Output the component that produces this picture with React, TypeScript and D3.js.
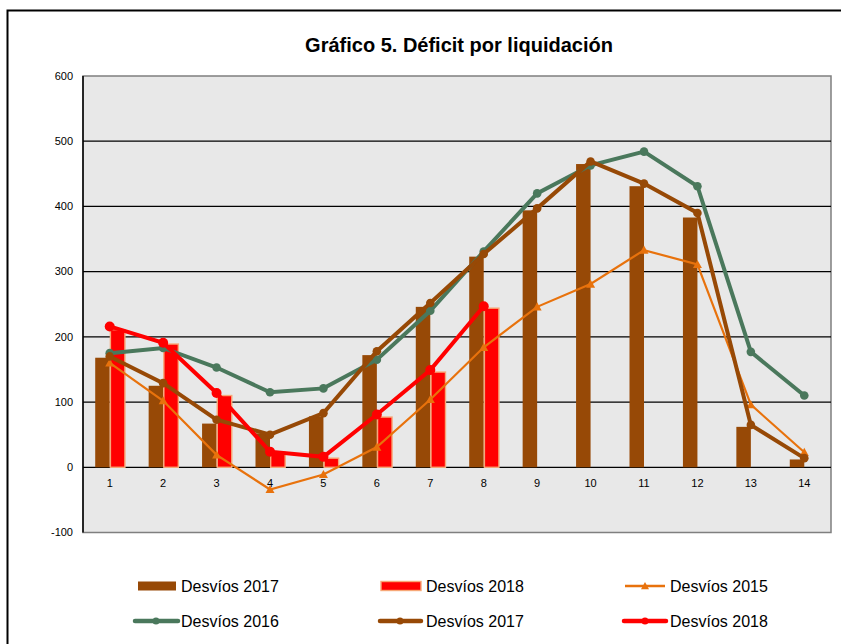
import * as d3 from 'd3';
import React from 'react';

// categories and values
const categories = ['1', '2', '3', '4', '5', '6', '7', '8', '9', '10', '11', '12', '13', '14'];
const bars2017 = [168, 125, 67, 52, 78, 172, 246, 323, 394, 465, 431, 383, 62, 12];
const bars2018 = [211, 189, 110, 23, 14, 77, 146, 244];
const line2015 = [160, 102, 19, -34, -11, 31, 104, 184, 246, 281, 333, 311, 96, 23];
const line2016 = [175, 183, 153, 115, 121, 165, 240, 331, 420, 463, 484, 431, 177, 110];
const line2017 = [170, 129, 73, 50, 83, 178, 252, 327, 397, 469, 435, 390, 65, 14];
const line2018 = [216, 191, 114, 24, 16, 81, 149, 247];
const yTicks = [-100, 0, 100, 200, 300, 400, 500, 600];

const BROWN = '#974906';
const RED = '#ff0000';
const GREEN = '#4a785c';
const ORANGE = '#e8720c';
const FONT = 'Liberation Sans, Arial, sans-serif';

export default function App() {
  const W = 841;
  const H = 644;
  const plot = { left: 83, right: 831, top: 76, bottom: 532.5 };

  const x = d3.scaleBand<string>().domain(categories).range([plot.left, plot.right]);
  const y = d3.scaleLinear().domain([-100, 600]).range([plot.bottom, plot.top]);
  const cx = (i: number) => (x(categories[i]) ?? 0) + x.bandwidth() / 2;

  const line = d3
    .line<number>()
    .x((_, i) => cx(i))
    .y(d => y(d));

  const tri = (px: number, py: number, s: number) =>
    `M${px},${py - s}L${px + s},${py + s * 0.8}L${px - s},${py + s * 0.8}Z`;

  const legendRow1 = 586;
  const legendRow2 = 621;

  return (
    <div style={{ position: 'absolute', left: 0, top: 0 }}>
      <svg width={W} height={H} style={{ display: 'block', background: '#fff' }} fontFamily={FONT}>
        {/* outer frame */}
        <rect x={7.5} y={10.5} width={W + 20} height={H + 20} fill="none" stroke="#000" strokeWidth={2} />

        <text x={459} y={52} textAnchor="middle" fontSize={20} fontWeight="bold" fill="#000">
          Gráfico 5. Déficit por liquidación
        </text>

        {/* plot area */}
        <rect
          x={plot.left}
          y={plot.top}
          width={plot.right - plot.left}
          height={plot.bottom - plot.top}
          fill="#e8e8e8"
          stroke="#7f7f7f"
          strokeWidth={1.5}
        />
        {yTicks
          .filter(t => t > -100 && t < 600)
          .map(t => (
            <line key={t} x1={plot.left} x2={plot.right} y1={y(t)} y2={y(t)} stroke="#000" strokeWidth={1.3} />
          ))}
        <line x1={plot.left} x2={plot.left} y1={plot.top} y2={plot.bottom} stroke="#000" strokeWidth={1.5} />

        {yTicks.map(t => (
          <text key={t} x={73} y={y(t)} dy="0.35em" textAnchor="end" fontSize={11} fill="#000">
            {t}
          </text>
        ))}
        {categories.map((c, i) => (
          <text key={c} x={cx(i)} y={487} textAnchor="middle" fontSize={11} fill="#000">
            {c}
          </text>
        ))}

        {/* bars */}
        {bars2017.map((v, i) => (
          <rect key={'b17' + i} x={cx(i) - 14.5} y={y(v)} width={14.5} height={y(0) - y(v)} fill={BROWN} />
        ))}
        {bars2018.map((v, i) => (
          <rect
            key={'b18' + i}
            x={cx(i) + 0.7}
            y={y(v)}
            width={14.5}
            height={y(0) - y(v)}
            fill={RED}
            stroke="#f7a878"
            strokeWidth={1.4}
          />
        ))}

        {/* lines */}
        <path d={line(line2015) ?? ''} fill="none" stroke={ORANGE} strokeWidth={2.2} />
        {line2015.map((v, i) => (
          <path key={'m15' + i} d={tri(cx(i), y(v), 4.5)} fill={ORANGE} />
        ))}
        <path d={line(line2016) ?? ''} fill="none" stroke={GREEN} strokeWidth={4} />
        {line2016.map((v, i) => (
          <circle key={'m16' + i} cx={cx(i)} cy={y(v)} r={4.3} fill={GREEN} />
        ))}
        <path d={line(line2017) ?? ''} fill="none" stroke={BROWN} strokeWidth={4} />
        {line2017.map((v, i) => (
          <circle key={'m17' + i} cx={cx(i)} cy={y(v)} r={4.3} fill={BROWN} />
        ))}
        <path d={line(line2018) ?? ''} fill="none" stroke={RED} strokeWidth={4} />
        {line2018.map((v, i) => (
          <circle key={'m18' + i} cx={cx(i)} cy={y(v)} r={5} fill={RED} />
        ))}

        {/* legend */}
        <g fontSize={16} fill="#000">
          <rect x={138} y={legendRow1 - 4.5} width={38} height={9} fill={BROWN} />
          <text x={181} y={legendRow1} dy="0.35em">Desvíos 2017</text>

          <rect x={381} y={legendRow1 - 4.5} width={40} height={9} fill={RED} stroke="#f7a878" strokeWidth={1.4} />
          <text x={426} y={legendRow1} dy="0.35em">Desvíos 2018</text>

          <line x1={625} x2={665} y1={legendRow1} y2={legendRow1} stroke={ORANGE} strokeWidth={2.5} />
          <path d={tri(645, legendRow1, 4)} fill={ORANGE} />
          <text x={670} y={legendRow1} dy="0.35em">Desvíos 2015</text>

          <line x1={135} x2={178} y1={legendRow2} y2={legendRow2} stroke={GREEN} strokeWidth={4.5} strokeLinecap="round" />
          <circle cx={156} cy={legendRow2} r={3.5} fill={GREEN} />
          <text x={181} y={legendRow2} dy="0.35em">Desvíos 2016</text>

          <line x1={380} x2={421} y1={legendRow2} y2={legendRow2} stroke={BROWN} strokeWidth={4.5} strokeLinecap="round" />
          <circle cx={400} cy={legendRow2} r={3.5} fill={BROWN} />
          <text x={426} y={legendRow2} dy="0.35em">Desvíos 2017</text>

          <line x1={624} x2={666} y1={legendRow2} y2={legendRow2} stroke={RED} strokeWidth={4.5} strokeLinecap="round" />
          <circle cx={645} cy={legendRow2} r={3.5} fill={RED} />
          <text x={670} y={legendRow2} dy="0.35em">Desvíos 2018</text>
        </g>
      </svg>
    </div>
  );
}
